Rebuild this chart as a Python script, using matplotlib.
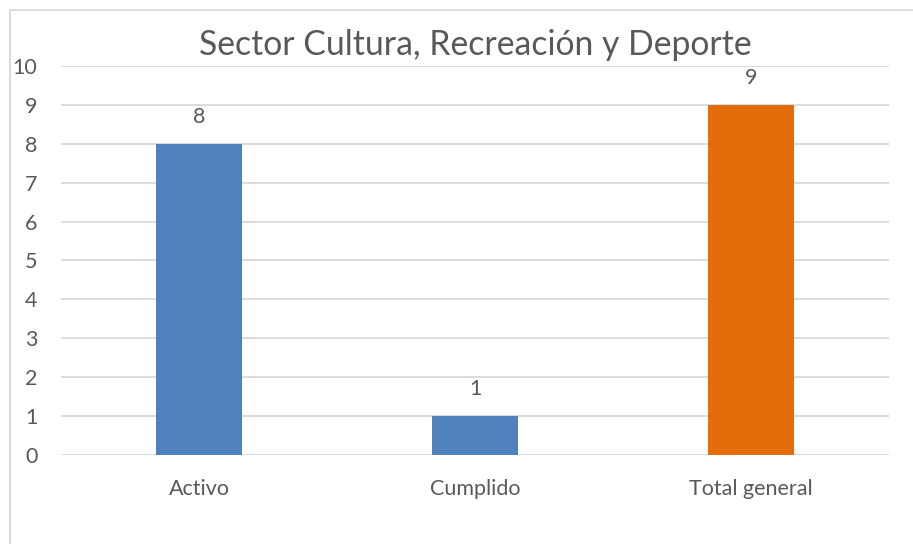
import matplotlib.pyplot as plt
from matplotlib.patches import Rectangle

categories = ['Activo', 'Cumplido', 'Total general']
values = [8, 1, 9]
colors = ['#4F81BD', '#4F81BD', '#E46C0A']
yticks = list(range(0, 11))

plt.rcParams['font.family'] = ['Lato', 'DejaVu Sans']
text_color = '#595959'

fig = plt.figure(figsize=(9.13, 5.44), dpi=100)
ax = fig.add_axes([0.0668, 0.1636, 0.9069, 0.7151])

x = range(len(categories))
bars = ax.bar(x, values, width=0.315, color=colors, zorder=3)
for b, v in zip(bars, values):
    ax.annotate(str(v), (b.get_x() + b.get_width() / 2, v), xytext=(0, 12),
                textcoords='offset points', ha='center', va='bottom',
                fontsize=15.5, color=text_color)

ax.set_xlim(-0.5, len(categories) - 0.5)
ax.set_ylim(0, 10)
ax.set_yticks(yticks)
ax.set_xticks(list(x))
ax.set_xticklabels(categories)
ax.tick_params(axis='both', length=0, labelsize=15.5, labelcolor=text_color)
ax.tick_params(axis='x', pad=17)
ax.tick_params(axis='y', pad=17)
ax.grid(axis='y', color='#D9D9D9', linewidth=1.3, zorder=0)
for s in ax.spines.values():
    s.set_visible(False)

fig.text(0.521, 0.917, 'Sector Cultura, Recreación y Deporte', ha='center',
         va='center', fontsize=24.3, color=text_color)

fig.patches.append(Rectangle((10 / 913, -0.05), 1.1, 1.05 - 10 / 544,
                             transform=fig.transFigure, fill=False,
                             edgecolor='#D9D9D9', linewidth=1.3))

fig.savefig('out.png', dpi=100)
